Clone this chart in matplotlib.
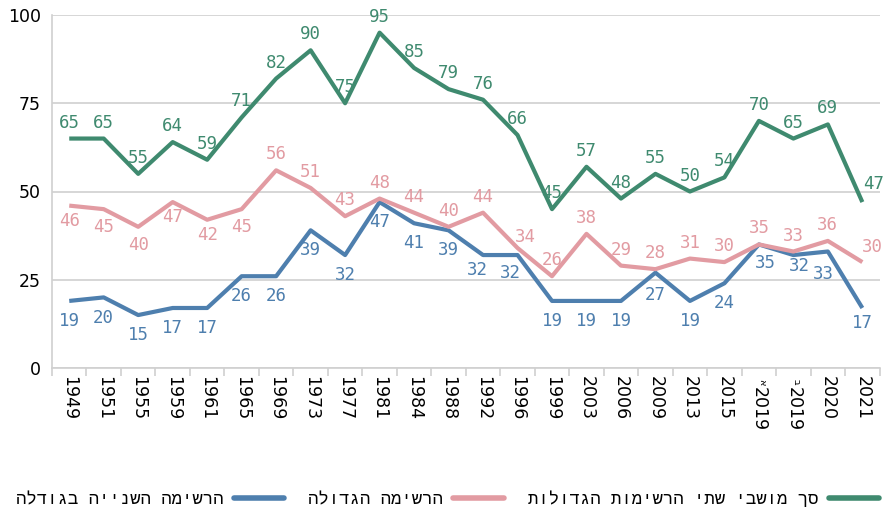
import matplotlib
matplotlib.use("Agg")
import matplotlib.pyplot as plt
import numpy as np

years = ["1949", "1951", "1955", "1959", "1961", "1965", "1969", "1973", "1977",
         "1981", "1984", "1988", "1992", "1996", "1999", "2003", "2006", "2009",
         "2013", "2015", "2019", "2019", "2020", "2021"]
year_marks = {20: "א", 21: "ב"}

total = [65, 65, 55, 64, 59, 71, 82, 90, 75, 95, 85, 79, 76, 66, 45, 57, 48, 55,
         50, 54, 70, 65, 69, 47]
largest = [46, 45, 40, 47, 42, 45, 56, 51, 43, 48, 44, 40, 44, 34, 26, 38, 29, 28,
           31, 30, 35, 33, 36, 30]
second = [19, 20, 15, 17, 17, 26, 26, 39, 32, 47, 41, 39, 32, 32, 19, 19, 19, 27,
          19, 24, 35, 32, 33, 17]

names = {
    "total": "סך מושבי שתי הרשימות הגדולות",
    "largest": "הרשימה הגדולה",
    "second": "הרשימה השנייה בגודלה",
}

GREEN = "#3f8a6f"
PINK = "#e29ba2"
BLUE = "#4e7fae"
GRID = "#d0d0d0"


def heb(s):
    # matplotlib has no bidi, so feed visual order
    return s[::-1]


fig = plt.figure(figsize=(8.84, 5.12), dpi=100)
ax = fig.add_axes([52 / 884, 1 - 368 / 512, (879.6 - 52) / 884, (368 - 15) / 512])

x = np.arange(len(years))
l_sec, = ax.plot(x, second, color=BLUE, lw=3, solid_capstyle="butt", zorder=3)
l_lar, = ax.plot(x, largest, color=PINK, lw=3, solid_capstyle="butt", zorder=3)
l_tot, = ax.plot(x, total, color=GREEN, lw=3, solid_capstyle="butt", zorder=3)

# label placement: above / below, plus a few nudges (dx, dy) in points
lab_font = dict(family="DejaVu Sans Mono", size=12.5)
UP = 11.5


def put_labels(vals, color, default, special):
    for i, v in enumerate(vals):
        dx, dy = special.get(i, (0, default))
        ax.annotate(str(v), (i, v), xytext=(dx, dy), textcoords="offset points",
                    ha="center", va="center", color=color, zorder=4, **lab_font)


put_labels(total, GREEN, UP, {23: (8, 13)})
put_labels(largest, PINK, UP, {
    0: (0, -11), 1: (0, -13), 2: (0, -13), 3: (0, -11), 4: (0, -11), 5: (0, -13),
    13: (6, 8), 23: (7, 11),
})
put_labels(second, BLUE, -14.5, {
    12: (-4, -11), 13: (-5, -13), 20: (5, -13), 21: (4, -8), 22: (-3, -16),
    17: (0, -16), 23: (0, -11),
})

ax.set_xlim(-0.5, len(years) - 0.5)
ax.set_ylim(0, 100)
ax.set_yticks([0, 25, 50, 75, 100])
ax.tick_params(axis="y", length=0, labelsize=12.5, pad=8)
ax.yaxis.grid(True, color=GRID, lw=1.2)
ax.set_axisbelow(True)

# the two 2019 elections get a small Hebrew letter on top, so draw them by hand
labels = ["" if i in year_marks else y for i, y in enumerate(years)]
ax.set_xticks(x)
ax.set_xticklabels(labels, rotation=270, fontsize=12.5, va="top", ha="center")
ax.tick_params(axis="x", length=0, pad=6)
ax.set_xticks(np.arange(-0.5, len(years), 1), minor=True)
ax.tick_params(axis="x", which="minor", length=6, color=GRID, width=1.2)
for i, m in year_marks.items():
    ax.annotate(years[i], (i, 0), xycoords=("data", "axes fraction"), xytext=(0, -14),
                textcoords="offset points", rotation=270, ha="center", va="top",
                fontsize=12.5)
    ax.annotate(m, (i, 0), xycoords=("data", "axes fraction"), xytext=(2.5, -10),
                textcoords="offset points", rotation=270, ha="center", va="center",
                fontsize=7)

for s in ["top", "right"]:
    ax.spines[s].set_visible(False)
ax.spines["left"].set_color(GRID)
ax.spines["bottom"].set_color(GRID)
ax.spines["left"].set_linewidth(1.2)
ax.spines["bottom"].set_linewidth(1.2)

leg = fig.legend([l_sec, l_lar, l_tot],
                 [heb(names["second"]), heb(names["largest"]), heb(names["total"])],
                 loc="center", bbox_to_anchor=(447.5 / 884, 1 - 499 / 512), ncol=3,
                 frameon=False, markerfirst=False,
                 prop=dict(family=["Liberation Mono", "DejaVu Sans"], size=12.5),
                 handlelength=2.9, columnspacing=1.4, handletextpad=0.6,
                 borderaxespad=0, borderpad=0)
for ln in leg.get_lines():
    ln.set_linewidth(4)
    ln.set_solid_capstyle("round")

fig.savefig("out.png", dpi=100)
